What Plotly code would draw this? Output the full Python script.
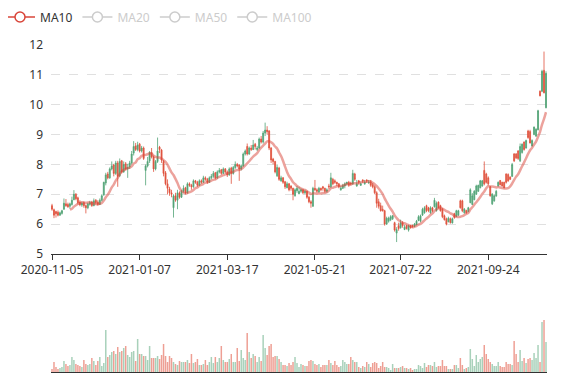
import plotly.graph_objects as go
import pandas as pd

# ---- categories: trading days ----
HOLIDAYS = ['2021-01-01', '2021-02-11', '2021-02-12', '2021-02-15', '2021-02-16', '2021-02-17',
            '2021-05-03', '2021-05-04', '2021-05-05', '2021-06-14', '2021-09-20', '2021-09-21',
            '2021-10-01', '2021-10-04', '2021-10-05', '2021-10-06', '2021-10-07']
dates = [d.strftime('%Y-%m-%d') for d in
         pd.bdate_range('2020-11-05', '2021-11-11', freq='C', holidays=HOLIDAYS)]

TICK_LABELS = ['2020-11-05', '2021-01-07', '2021-03-17', '2021-05-21', '2021-07-22', '2021-09-24']

open_ = [
    6.62, 6.48, 6.42, 6.40, 6.30, 6.36, 6.50, 6.68, 6.66, 6.60,
    6.66, 6.82, 7.00, 6.88, 6.74, 6.64, 6.72, 6.62, 6.55, 6.66,
    6.74, 6.62, 6.80, 6.74, 6.66, 6.80, 6.98, 7.38, 7.68, 7.55,
    7.85, 7.98, 7.70, 8.05, 7.62, 8.12, 7.75, 8.02, 7.85, 7.92,
    8.05, 8.38, 8.62, 8.50, 8.68, 8.45, 8.55, 7.80, 7.95, 8.12,
    8.40, 8.25, 7.85, 8.10, 8.58, 8.48, 8.10, 7.72, 7.35, 7.18,
    7.05, 6.55, 6.95, 6.80, 7.05, 6.90, 7.10, 7.22, 7.05, 7.35,
    7.30, 7.25, 7.45, 7.40, 7.30, 7.45, 7.40, 7.55, 7.50, 7.40,
    7.55, 7.60, 7.72, 7.55, 7.75, 7.82, 7.70, 7.85, 7.75, 7.65,
    7.88, 7.70, 7.90, 8.00, 7.98, 7.85, 7.95, 8.35, 8.60, 8.35,
    8.55, 8.50, 8.68, 8.50, 8.55, 8.85, 8.75, 9.05, 9.15, 9.12,
    8.55, 8.18, 8.10, 7.62, 7.88, 7.45, 7.55, 7.42, 7.22, 7.35,
    7.28, 7.20, 6.95, 7.12, 7.02, 7.10, 7.15, 7.05, 7.10, 6.90,
    6.75, 6.60, 7.20, 7.15, 7.08, 7.20, 7.25, 7.20, 7.10, 7.28,
    7.25, 7.50, 7.45, 7.40, 7.35, 7.15, 7.20, 7.28, 7.35, 7.40,
    7.38, 7.35, 7.68, 7.28, 7.45, 7.30, 7.48, 7.35, 7.48, 7.38,
    7.42, 7.32, 7.25, 7.05, 6.75, 6.62, 6.50, 6.45, 6.00, 6.10,
    6.15, 6.18, 6.05, 5.70, 5.95, 5.88, 6.05, 5.82, 5.95, 5.80,
    5.95, 5.96, 5.92, 5.98, 6.12, 6.10, 6.30, 6.38, 6.62, 6.55,
    6.38, 6.55, 6.58, 6.45, 6.74, 6.62, 6.50, 6.28, 6.18, 6.08,
    6.18, 6.04, 6.35, 6.26, 6.30, 6.78, 6.78, 6.38, 6.46, 6.42,
    6.72, 6.66, 6.82, 7.00, 7.10, 7.22, 7.28, 7.80, 7.68, 7.55,
    7.25, 6.68, 6.78, 6.94, 7.28, 7.46, 7.40, 7.40, 7.68, 7.66,
    7.58, 7.60, 8.35, 8.35, 8.45, 8.12, 8.40, 8.75, 8.55, 9.12,
    9.10, 8.62, 9.00, 8.95, 9.16, 10.45, 10.45, 11.15, 9.90, 10.98,
]
high = [
    6.68, 6.52, 6.45, 6.46, 6.42, 6.48, 6.86, 6.84, 6.72, 6.72,
    6.92, 7.14, 7.04, 6.92, 6.80, 6.75, 6.76, 6.66, 6.72, 6.78,
    6.78, 6.86, 6.84, 6.80, 6.86, 7.00, 7.42, 7.72, 7.75, 7.90,
    8.10, 8.02, 8.12, 8.12, 8.20, 8.15, 8.10, 8.08, 8.02, 8.12,
    8.45, 8.78, 8.72, 8.76, 8.72, 8.62, 8.60, 8.00, 8.25, 8.45,
    8.55, 8.30, 8.15, 8.90, 8.62, 8.52, 8.15, 7.78, 7.50, 7.25,
    7.15, 7.00, 7.05, 7.15, 7.10, 7.15, 7.30, 7.25, 7.40, 7.40,
    7.35, 7.50, 7.48, 7.45, 7.50, 7.50, 7.62, 7.60, 7.55, 7.60,
    7.68, 7.78, 7.75, 7.80, 7.88, 7.85, 7.90, 7.88, 7.80, 7.90,
    7.92, 7.95, 8.10, 8.05, 8.00, 8.00, 8.40, 8.50, 8.70, 8.60,
    8.65, 8.82, 8.72, 8.62, 8.90, 8.95, 9.12, 9.40, 9.28, 9.15,
    8.58, 8.22, 8.12, 8.00, 7.92, 7.62, 7.58, 7.45, 7.42, 7.38,
    7.30, 7.22, 7.20, 7.28, 7.25, 7.20, 7.18, 7.15, 7.12, 6.95,
    6.80, 7.25, 7.48, 7.20, 7.25, 7.22, 7.28, 7.22, 7.20, 7.35,
    7.72, 7.55, 7.50, 7.42, 7.38, 7.28, 7.35, 7.40, 7.42, 7.45,
    7.42, 7.82, 7.72, 7.48, 7.48, 7.40, 7.50, 7.48, 7.50, 7.48,
    7.48, 7.38, 7.30, 7.10, 6.85, 6.72, 6.62, 6.48, 6.25, 6.25,
    6.30, 6.30, 6.08, 5.90, 6.05, 6.15, 6.10, 5.98, 5.98, 5.98,
    5.98, 5.98, 6.04, 6.14, 6.30, 6.32, 6.55, 6.60, 6.65, 6.58,
    6.60, 6.58, 6.88, 6.76, 6.76, 6.65, 6.54, 6.32, 6.22, 6.25,
    6.22, 6.22, 6.38, 6.48, 6.48, 6.82, 6.82, 6.54, 6.48, 6.58,
    7.20, 7.04, 7.14, 7.32, 7.32, 7.48, 7.48, 8.10, 7.72, 7.60,
    7.28, 7.04, 7.00, 7.15, 7.43, 7.48, 7.42, 7.42, 7.70, 7.70,
    7.60, 8.05, 8.38, 8.38, 8.48, 8.70, 8.70, 8.77, 8.83, 9.16,
    9.16, 8.84, 9.27, 9.21, 9.83, 10.48, 11.17, 11.78, 11.12, 11.02,
]
low = [
    6.45, 6.20, 6.22, 6.26, 6.28, 6.32, 6.48, 6.58, 6.55, 6.52,
    6.62, 6.80, 6.80, 6.66, 6.60, 6.58, 6.55, 6.36, 6.50, 6.62,
    6.58, 6.60, 6.66, 6.62, 6.64, 6.76, 6.95, 7.30, 7.50, 7.52,
    7.80, 7.60, 7.65, 7.25, 7.58, 7.70, 7.72, 7.80, 7.55, 7.85,
    8.00, 8.30, 8.45, 8.44, 8.40, 8.40, 8.15, 7.30, 7.90, 8.05,
    8.20, 7.75, 7.80, 8.05, 8.38, 8.05, 7.60, 7.30, 7.00, 6.95,
    6.90, 6.22, 6.75, 6.50, 6.85, 6.88, 7.05, 7.00, 7.02, 7.25,
    7.15, 7.22, 7.35, 7.25, 7.28, 7.35, 7.38, 7.45, 7.35, 7.38,
    7.50, 7.55, 7.50, 7.52, 7.70, 7.65, 7.68, 7.70, 7.58, 7.62,
    7.35, 7.66, 7.85, 7.90, 7.45, 7.80, 7.92, 8.30, 8.30, 8.32,
    8.45, 8.48, 8.50, 8.45, 8.52, 8.70, 8.70, 8.95, 9.00, 8.48,
    8.05, 8.00, 7.70, 7.58, 7.45, 7.42, 7.35, 7.18, 7.20, 7.10,
    7.12, 6.80, 6.92, 7.05, 7.00, 7.05, 7.00, 7.00, 6.85, 6.70,
    6.55, 6.58, 7.10, 7.05, 7.05, 7.10, 7.12, 7.05, 7.05, 7.18,
    7.22, 7.30, 7.35, 7.28, 7.20, 7.12, 7.18, 7.20, 7.30, 7.25,
    7.30, 7.32, 7.45, 7.25, 7.32, 7.28, 7.38, 7.32, 7.38, 7.35,
    7.25, 7.20, 7.00, 6.55, 6.52, 6.42, 6.42, 5.95, 5.98, 6.05,
    6.10, 6.14, 5.75, 5.40, 5.78, 5.85, 5.88, 5.80, 5.82, 5.75,
    5.85, 5.88, 5.90, 5.96, 6.10, 6.06, 6.28, 6.35, 6.40, 6.40,
    6.35, 6.40, 6.56, 6.42, 6.52, 6.42, 6.20, 6.12, 5.96, 6.06,
    6.02, 6.02, 6.18, 6.24, 6.28, 6.52, 6.40, 6.35, 6.35, 6.40,
    6.70, 6.64, 6.80, 6.98, 7.08, 7.20, 7.25, 7.30, 7.36, 7.30,
    6.92, 6.64, 6.75, 6.92, 7.26, 7.30, 7.26, 7.20, 7.36, 7.42,
    7.48, 7.58, 8.08, 8.18, 8.15, 8.08, 8.36, 8.46, 8.53, 8.86,
    8.70, 8.60, 8.98, 8.92, 9.14, 10.28, 10.42, 10.38, 9.88, 10.66,
]
close = [
    6.50, 6.30, 6.35, 6.30, 6.38, 6.45, 6.70, 6.62, 6.58, 6.68,
    6.80, 7.00, 6.85, 6.72, 6.65, 6.70, 6.62, 6.55, 6.68, 6.72,
    6.62, 6.78, 6.72, 6.66, 6.80, 6.95, 7.40, 7.65, 7.55, 7.85,
    7.95, 7.70, 8.05, 7.60, 8.10, 7.75, 8.00, 7.85, 7.90, 8.05,
    8.35, 8.60, 8.50, 8.65, 8.45, 8.55, 8.20, 7.95, 8.10, 8.40,
    8.25, 7.85, 8.10, 8.45, 8.50, 8.15, 7.70, 7.35, 7.20, 7.05,
    7.00, 6.95, 6.80, 7.05, 6.90, 7.10, 7.20, 7.05, 7.35, 7.30,
    7.25, 7.45, 7.40, 7.30, 7.45, 7.40, 7.55, 7.50, 7.40, 7.55,
    7.60, 7.70, 7.55, 7.75, 7.80, 7.70, 7.85, 7.75, 7.65, 7.85,
    7.70, 7.90, 8.00, 7.95, 7.85, 7.95, 8.35, 8.45, 8.35, 8.55,
    8.50, 8.65, 8.60, 8.55, 8.85, 8.75, 9.05, 9.15, 9.10, 8.55,
    8.15, 8.10, 7.75, 7.90, 7.50, 7.55, 7.40, 7.25, 7.35, 7.15,
    7.20, 7.00, 7.15, 7.20, 7.10, 7.15, 7.05, 7.10, 6.90, 6.75,
    6.70, 7.20, 7.15, 7.10, 7.20, 7.15, 7.20, 7.10, 7.15, 7.25,
    7.55, 7.35, 7.40, 7.35, 7.25, 7.20, 7.30, 7.35, 7.40, 7.30,
    7.35, 7.70, 7.50, 7.35, 7.40, 7.35, 7.45, 7.40, 7.45, 7.40,
    7.30, 7.25, 7.05, 6.70, 6.60, 6.45, 6.45, 6.00, 6.20, 6.20,
    6.25, 6.28, 5.80, 5.82, 5.85, 6.05, 5.95, 5.90, 5.85, 5.95,
    5.88, 5.92, 6.00, 6.10, 6.25, 6.28, 6.50, 6.55, 6.45, 6.45,
    6.55, 6.45, 6.80, 6.70, 6.55, 6.45, 6.25, 6.15, 6.00, 6.20,
    6.05, 6.18, 6.22, 6.45, 6.45, 6.55, 6.45, 6.50, 6.38, 6.55,
    7.15, 6.95, 7.10, 7.28, 7.30, 7.45, 7.45, 7.35, 7.40, 7.35,
    6.95, 7.00, 6.95, 7.10, 7.40, 7.32, 7.28, 7.22, 7.40, 7.45,
    7.50, 8.00, 8.12, 8.22, 8.20, 8.60, 8.68, 8.50, 8.80, 8.90,
    8.72, 8.80, 9.25, 9.18, 9.80, 10.30, 11.12, 10.40, 11.05, 10.70,
]
volume = [
    3, 10, 5, 3, 4, 5, 11, 8, 6, 7,
    15, 12, 8, 7, 6, 5, 12, 8, 7, 8,
    14, 11, 7, 11, 15, 6, 9, 42, 15, 17,
    20, 21, 18, 25, 20, 21, 24, 26, 17, 15,
    20, 21, 11, 33, 18, 18, 16, 16, 12, 26,
    14, 14, 14, 16, 13, 17, 28, 16, 10, 16,
    14, 10, 8, 7, 11, 10, 10, 10, 12, 9,
    18, 9, 10, 13, 7, 7, 8, 12, 7, 10,
    15, 9, 15, 10, 14, 26, 12, 10, 10, 13,
    18, 10, 10, 24, 11, 22, 14, 12, 39, 20,
    14, 18, 16, 10, 15, 11, 37, 24, 17, 26,
    28, 15, 16, 16, 13, 10, 7, 7, 6, 9,
    7, 10, 15, 9, 5, 8, 7, 6, 6, 11,
    12, 11, 8, 7, 8, 5, 7, 7, 7, 12,
    9, 7, 11, 7, 5, 6, 12, 10, 8, 8,
    15, 12, 10, 10, 5, 4, 6, 5, 10, 8,
    5, 9, 10, 9, 4, 6, 10, 5, 5, 4,
    2, 8, 4, 4, 4, 5, 6, 4, 4, 3,
    4, 2, 3, 3, 7, 6, 4, 9, 5, 7,
    7, 6, 10, 5, 6, 6, 12, 6, 6, 3,
    3, 3, 7, 7, 4, 14, 7, 3, 4, 5,
    23, 13, 6, 17, 10, 13, 15, 27, 18, 13,
    10, 8, 6, 6, 10, 6, 5, 5, 10, 8,
    8, 7, 31, 18, 10, 22, 11, 14, 9, 13,
    14, 12, 19, 14, 27, 10, 50, 52, 30, 5,
]

LEGEND_NAMES = ['MA10', 'MA20', 'MA50', 'MA100']

UP = '#52a376'
DOWN = '#e0513c'
UP_VOL = 'rgba(82,163,118,0.5)'
DOWN_VOL = 'rgba(224,81,60,0.55)'
MA_COLOR = '#d9463a'
OFF = '#cccccc'

ma10 = pd.Series(close).rolling(10).mean().round(3).tolist()
vol_colors = [UP_VOL if c >= o else DOWN_VOL for o, c in zip(open_, close)]

# The page body adds an 8px offset; the figure is sized so that it fills the 577x380 window.
BODY = 8
W, H = 577 - BODY, 380 - BODY
ML, MT = 51 - BODY, 45 - BODY
MR = W - (547 - BODY)
MB = H - (372 - BODY)
PW = W - ML - MR
PH = H - MT - MB
LEGEND_CY = 9  # legend row centre, px from the top of the figure

fig = go.Figure()
fig.add_trace(go.Candlestick(
    x=dates, open=open_, high=high, low=low, close=close,
    increasing=dict(line=dict(color=UP, width=0.8), fillcolor=UP),
    decreasing=dict(line=dict(color=DOWN, width=0.8), fillcolor=DOWN),
    whiskerwidth=0, showlegend=False, hoverinfo='skip', xaxis='x', yaxis='y'))
fig.add_trace(go.Scatter(
    x=dates, y=ma10, mode='lines', showlegend=False, hoverinfo='skip',
    line=dict(color='rgba(217,70,58,0.5)', width=2.5, shape='spline', smoothing=0.6),
    xaxis='x', yaxis='y'))
for name in LEGEND_NAMES:
    col = MA_COLOR if name == 'MA10' else OFF
    label = name if name == 'MA10' else f'<span style="color:{OFF}">{name}</span>'
    fig.add_trace(go.Scatter(
        x=[None], y=[None], mode='lines+markers', name=label,
        line=dict(color=col, width=1.5),
        marker=dict(symbol='circle', size=10, color='white', line=dict(color=col, width=1.5)),
        xaxis='x', yaxis='y'))
fig.add_trace(go.Bar(
    x=dates, y=volume, marker=dict(color=vol_colors, line=dict(width=0)),
    showlegend=False, hoverinfo='skip', xaxis='x2', yaxis='y2'))

fig.update_layout(
    width=W, height=H, margin=dict(l=ML, r=MR, t=MT, b=MB, autoexpand=False),
    paper_bgcolor='white', plot_bgcolor='white',
    font=dict(family='Noto Sans', size=12, color='#333'),
    showlegend=True, hovermode=False, bargap=0.25,
    legend=dict(orientation='h', x=(-BODY - ML) / PW, y=1 + (MT - LEGEND_CY) / PH,
                xanchor='left', yanchor='middle',
                font=dict(size=12, color='#333'), bgcolor='rgba(0,0,0,0)',
                itemclick=False, itemdoubleclick=False),
    xaxis=dict(domain=[0, 1], type='category', range=[-0.5, len(dates) - 0.5],
               tickmode='array', tickvals=TICK_LABELS, ticktext=TICK_LABELS,
               ticks='outside', ticklen=5, tickcolor='#333', showline=True,
               linecolor='#333', linewidth=1, showgrid=False, anchor='y',
               automargin=False,
               rangeslider=dict(visible=False), tickfont=dict(size=12, color='#333')),
    yaxis=dict(domain=[(372 - 254) / PH, 1], range=[5, 12], dtick=1,
               showgrid=True, gridcolor='#e0e0e0', griddash='dash', gridwidth=1,
               zeroline=False, showline=False, ticks='', ticklabelstandoff=7,
               automargin=False,
               tickfont=dict(size=12, color='#333'), anchor='x'),
    xaxis2=dict(domain=[0, 1], type='category', matches='x', anchor='y2',
                showticklabels=False, showline=True, linecolor='#333', linewidth=1,
                ticks='', showgrid=False, automargin=False),
    yaxis2=dict(domain=[0, 72 / PH], range=[0, 72], visible=False,
                anchor='x2', automargin=False),
)

fig.write_html('out.html')
